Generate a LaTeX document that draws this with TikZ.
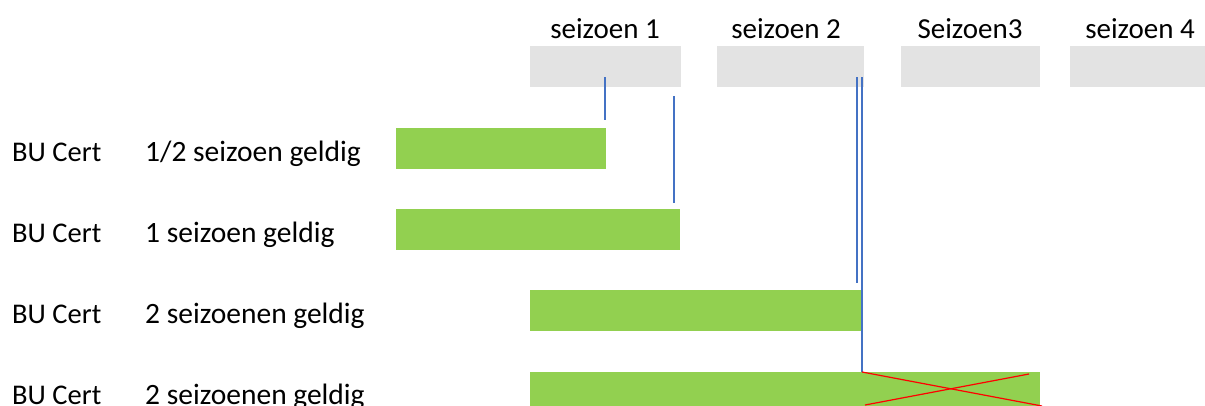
\documentclass[tikz,border=0pt]{standalone}
\usepackage{fontspec}
\setmainfont{Carlito}
\definecolor{boxgray}{HTML}{E3E3E3}
\definecolor{bargreen}{HTML}{92D050}
\definecolor{lineblue}{HTML}{4472C4}
\definecolor{crossred}{HTML}{FF0000}
\begin{document}
\begin{tikzpicture}[x=1pt,y=-1pt,
  lbl/.style={anchor=base west,inner sep=0pt,font=\fontsize{28.5}{30}\selectfont},
  desc/.style={anchor=base west,inner sep=0pt,font=\fontsize{29.5}{31}\selectfont},
  hdr/.style={anchor=base,inner sep=0pt,font=\fontsize{29}{31}\selectfont},
  season/.style={fill=boxgray,draw=none},
  bar/.style={fill=bargreen,draw=none},
  marker/.style={draw=lineblue,line width=1.2pt},
  cross/.style={draw=crossred,line width=1.2pt}]
\useasboundingbox (0,0) rectangle (1205,405);
\clip (0,0) rectangle (1205,405);
% season boxes
\fill[season] (530,46) rectangle (681,87);
\fill[season] (717,46) rectangle (864,87);
\fill[season] (901,46) rectangle (1040,87);
\fill[season] (1070,46) rectangle (1210,87);
\node[hdr] (h1) at (605,38) {seizoen 1};
\node[hdr] (h2) at (786,38) {seizoen 2};
\node[hdr] (h3) at (970,38) {Seizoen3};
\node[hdr] (h4) at (1140,38) {seizoen 4};
% bars
\fill[bar] (396,128) rectangle (606,169);
\fill[bar] (396,209) rectangle (680,250);
\fill[bar] (530,290) rectangle (863,331);
\fill[bar] (530,372) rectangle (1040,415);
% labels
\foreach \y/\t [count=\i] in {161/1\slash 2 seizoen geldig,242/1 seizoen geldig,323/2 seizoenen geldig,404/2 seizoenen geldig}{
  \node[lbl] (bu\i) at (12,\y) {BU Cert};
  \node[desc] (ds\i) at (145,\y) {\t};
}
% marker lines
\coordinate (m1a) at (605,77); \coordinate (m1b) at (605,120);
\coordinate (m2a) at (674,96); \coordinate (m2b) at (674,203);
\coordinate (m3a) at (857,77); \coordinate (m3b) at (857,283);
\coordinate (m4a) at (862,77); \coordinate (m4b) at (862,372);
\draw[marker] (m1a) -- (m1b);
\draw[marker] (m2a) -- (m2b);
\draw[marker] (m3a) -- (m3b);
\draw[marker] (m4a) -- (m4b);
% cross
\coordinate (c1) at (862,372); \coordinate (c2) at (1042,406);
\coordinate (c3) at (865,405); \coordinate (c4) at (1029,374);
\draw[cross] (c1) -- (c2);
\draw[cross] (c3) -- (c4);
\end{tikzpicture}
\end{document}
